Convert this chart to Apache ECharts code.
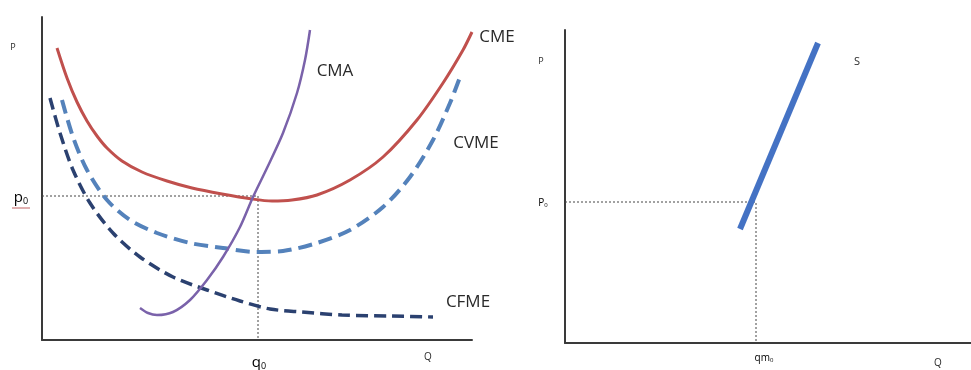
<!DOCTYPE html>
<html><head><meta charset="utf-8">
<script src="https://cdn.jsdelivr.net/npm/echarts@6/dist/echarts.min.js"></script>
<style>html,body{margin:0;padding:0;background:#fff}#c{width:971px;height:370px}</style>
</head><body><div id="c"></div>
<script>
// Left panel curves (Q, P) in panel units
const cme  = [[15,292],[25,262],[35,238],[45,219],[55,204],[65,192],[80,179],[100,168],[125,159],[150,152],[180,146],[210,141],[230,139],[250,140],[275,145],[308,160],[341,183],[375,220],[401,257],[421,290],[430,308]];
const cvme = [[20,240],[31,203],[45,170],[65,140],[88,120],[115,107],[148,97],[181,92],[215,88],[241,89],[275,97],[308,110],[341,133],[368,163],[391,200],[408,237],[418,263]];
const cfme = [[8,242],[18,207],[31,170],[48,137],[71,107],[98,83],[131,63],[165,50],[198,39],[228,31],[260,28],[300,25],[350,24],[391,23]];
const cma  = [[98,32],[106,27],[115,25],[131,28],[148,40],[165,60],[181,83],[198,113],[211,143],[225,172],[241,207],[255,247],[263,280],[268,310]];
const leftP0 = 144, leftQ0 = 216;
// Right panel supply curve
const supply = [[175,114],[253,300]];
const rightP0 = 141, rightQ0 = 191;
// Labels
const curveNames = ['CME','CVME','CFME','CMA'];
const leftTicks = {p:'p', q:'q', sub:'0'};
const rightTicks = {p:'P', q:'qm', sub:'0', s:'S'};

const chart = echarts.init(document.getElementById('c'), null, {renderer:'canvas'});
const axisCommon = {type:'value', splitLine:{show:false}, axisTick:{show:false}, axisLabel:{show:false}, axisLine:{show:true, onZero:false, lineStyle:{color:'#3a3a3a', width:2}}};
const dotted = {color:'#444', width:1, type:[2,2]};
const F = 'Open Sans, Liberation Sans, sans-serif';
function txt(x,y,t,size,extra){return Object.assign({type:'text', x:x, y:y, style:{text:t, font:(size)+'px '+F, fill:'#2a2a2a', align:'center', verticalAlign:'middle'}}, extra||{});}
function sub(x,y,main,s,size,subSize){
  return {type:'text', x:x, y:y, style:{text:'{a|'+main+'}{b|'+s+'}', align:'center', verticalAlign:'middle',
    rich:{a:{fontSize:size, fontFamily:F, color:'#333'}, b:{fontSize:subSize, fontFamily:F, color:'#c06060', verticalAlign:'bottom', padding:[size*0.3,0,0,0]}}}};
}
chart.setOption({
  animation:false,
  grid:[{left:42, top:17, width:430, height:323},{left:565, top:30, width:406, height:313}],
  xAxis:[Object.assign({gridIndex:0, min:0, max:430}, axisCommon), Object.assign({gridIndex:1, min:0, max:406}, axisCommon)],
  yAxis:[Object.assign({gridIndex:0, min:0, max:323}, axisCommon), Object.assign({gridIndex:1, min:0, max:313}, axisCommon)],
  series:[
    {type:'line', xAxisIndex:0, yAxisIndex:0, data:[[0,leftP0],[leftQ0,leftP0],[leftQ0,0]], symbol:'none', lineStyle:dotted, z:1},
    {name:curveNames[2], type:'line', xAxisIndex:0, yAxisIndex:0, data:cfme, smooth:0.3, symbol:'none', lineStyle:{color:'#2b4170', width:3.5, type:[12,6]}},
    {name:curveNames[1], type:'line', xAxisIndex:0, yAxisIndex:0, data:cvme, smooth:0.3, symbol:'none', lineStyle:{color:'#5482bb', width:4, type:[14,7]}},
    {name:curveNames[0], type:'line', xAxisIndex:0, yAxisIndex:0, data:cme, smooth:0.3, symbol:'none', lineStyle:{color:'#c0504d', width:3}},
    {name:curveNames[3], type:'line', xAxisIndex:0, yAxisIndex:0, data:cma, smooth:0.3, symbol:'none', lineStyle:{color:'#7a62aa', width:2.5}},
    {type:'line', xAxisIndex:1, yAxisIndex:1, data:[[0,rightP0],[rightQ0,rightP0],[rightQ0,0]], symbol:'none', lineStyle:dotted, z:1},
    {name:rightTicks.s, type:'line', xAxisIndex:1, yAxisIndex:1, data:supply, symbol:'none', lineStyle:{color:'#4472c4', width:6}}
  ],
  graphic:[
    txt(13,47,'P',9,{}),
    sub(21,198,leftTicks.p,leftTicks.sub,15,9),
    {type:'line', shape:{x1:12,y1:208,x2:30,y2:208}, style:{stroke:'#c06060', lineWidth:1}},
    sub(259,363,leftTicks.q,leftTicks.sub,15,9),
    txt(428,357,'Q',10,{}),
    txt(335,71,curveNames[3],17,{}),
    txt(497,37,curveNames[0],17,{}),
    txt(476,143,curveNames[1],17,{}),
    txt(468,302,curveNames[2],17,{}),
    txt(541,61,'P',9,{}),
    sub(543,203,rightTicks.p,rightTicks.sub,10,6),
    txt(857,62,rightTicks.s,11,{}),
    sub(764,358,rightTicks.q,rightTicks.sub,10,6),
    txt(938,363,'Q',10,{})
  ]
});
</script></body></html>
